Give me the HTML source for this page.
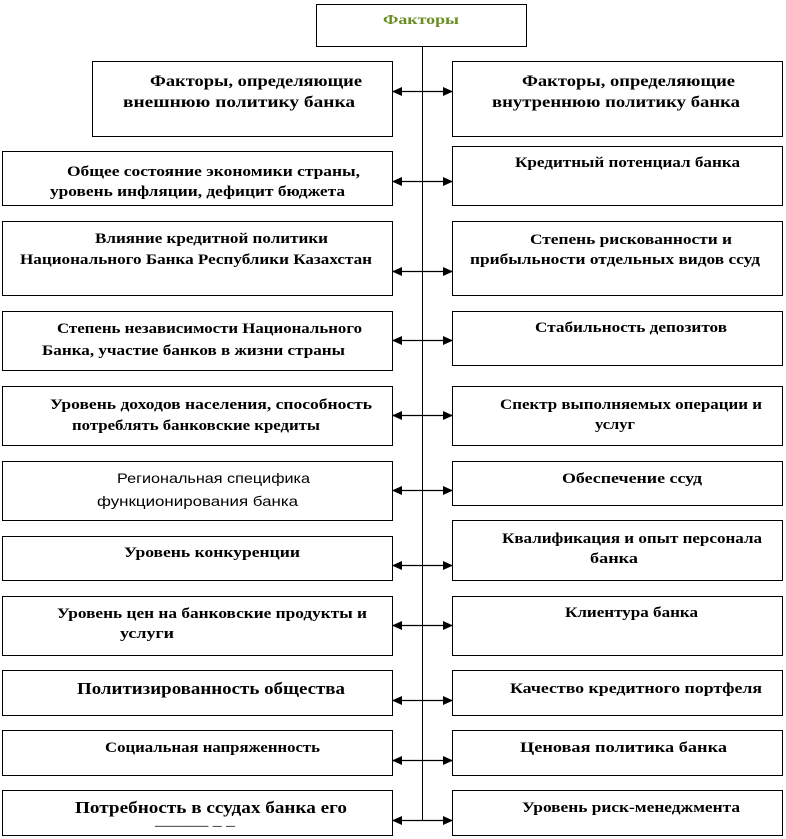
<!DOCTYPE html>
<html><head><meta charset="utf-8"><style>
html,body{margin:0;padding:0;background:#fff;}
svg{display:block;}
text{font-family:"Liberation Serif","Times New Roman",Times,serif;font-weight:bold;font-size:15px;fill:#000;}
</style></head><body>
<svg width="786" height="839" viewBox="0 0 786 839" xmlns="http://www.w3.org/2000/svg">
<defs>
<marker id="a" markerWidth="10" markerHeight="10" refX="9" refY="5" orient="auto-start-reverse" markerUnits="userSpaceOnUse">
<path d="M0,0.5 L10,5 L0,9.5 Z" fill="#000"/></marker>
</defs>
<g fill="none" stroke="#000" stroke-width="1">
<rect x="316.5" y="4.5" width="210" height="42"/>
<line x1="422.5" y1="46" x2="422.5" y2="820"/>
<rect x="92.5" y="61.5" width="300" height="75"/>
<rect x="452.5" y="61.5" width="330" height="75"/>
<rect x="2.5" y="151.5" width="390" height="54"/>
<rect x="452.5" y="146.5" width="330" height="59"/>
<rect x="2.5" y="221.5" width="390" height="74"/>
<rect x="452.5" y="221.5" width="330" height="74"/>
<rect x="2.5" y="311.5" width="390" height="59"/>
<rect x="452.5" y="311.5" width="330" height="54"/>
<rect x="2.5" y="386.5" width="390" height="59"/>
<rect x="452.5" y="386.5" width="330" height="59"/>
<rect x="2.5" y="461.5" width="390" height="59"/>
<rect x="452.5" y="461.5" width="330" height="44"/>
<rect x="2.5" y="536.5" width="390" height="44"/>
<rect x="452.5" y="520.5" width="330" height="60"/>
<rect x="2.5" y="596.5" width="390" height="59"/>
<rect x="452.5" y="596.5" width="330" height="59"/>
<rect x="2.5" y="670.5" width="390" height="45"/>
<rect x="452.5" y="670.5" width="330" height="45"/>
<rect x="2.5" y="730.5" width="390" height="45"/>
<rect x="452.5" y="730.5" width="330" height="45"/>
<rect x="2.5" y="790.5" width="390" height="45"/>
<rect x="452.5" y="790.5" width="330" height="45"/>
</g>
<g stroke="#000" stroke-width="1.3" marker-start="url(#a)" marker-end="url(#a)">
<line x1="393" y1="91.5" x2="452" y2="91.5"/>
<line x1="393" y1="181.5" x2="452" y2="181.5"/>
<line x1="393" y1="271.5" x2="452" y2="271.5"/>
<line x1="393" y1="340.5" x2="452" y2="340.5"/>
<line x1="393" y1="415.5" x2="452" y2="415.5"/>
<line x1="393" y1="490.5" x2="452" y2="490.5"/>
<line x1="393" y1="565.5" x2="452" y2="565.5"/>
<line x1="393" y1="625.5" x2="452" y2="625.5"/>
<line x1="393" y1="700.5" x2="452" y2="700.5"/>
<line x1="393" y1="760.5" x2="452" y2="760.5"/>
<line x1="393" y1="820.5" x2="452" y2="820.5"/>
</g>
<text x="383" y="24" textLength="76" lengthAdjust="spacingAndGlyphs" style="fill:#6b8e23;font-size:14px">Факторы</text>

<text x="150" y="86" textLength="212" lengthAdjust="spacingAndGlyphs" style="font-size:16px">Факторы, определяющие</text>
<text x="123" y="107" textLength="232" lengthAdjust="spacingAndGlyphs" style="font-size:16px">внешнюю политику банка</text>
<text x="522" y="86" textLength="213" lengthAdjust="spacingAndGlyphs" style="font-size:16px">Факторы, определяющие</text>
<text x="492" y="107" textLength="248" lengthAdjust="spacingAndGlyphs" style="font-size:16px">внутреннюю политику банка</text>

<text x="67" y="176" textLength="293" lengthAdjust="spacingAndGlyphs">Общее состояние экономики страны,</text>
<text x="50" y="196" textLength="295" lengthAdjust="spacingAndGlyphs">уровень инфляции, дефицит бюджета</text>
<text x="515" y="167" textLength="225" lengthAdjust="spacingAndGlyphs">Кредитный потенциал банка</text>

<text x="95" y="243" textLength="233" lengthAdjust="spacingAndGlyphs">Влияние кредитной политики</text>
<text x="20" y="264" textLength="352" lengthAdjust="spacingAndGlyphs">Национального Банка Республики Казахстан</text>
<text x="530" y="244" textLength="202" lengthAdjust="spacingAndGlyphs">Степень рискованности и</text>
<text x="470" y="264" textLength="290" lengthAdjust="spacingAndGlyphs">прибыльности отдельных видов ссуд</text>

<text x="57" y="333" textLength="305" lengthAdjust="spacingAndGlyphs">Степень независимости Национального</text>
<text x="42" y="355" textLength="303" lengthAdjust="spacingAndGlyphs">Банка, участие банков в жизни страны</text>
<text x="535" y="332" textLength="192" lengthAdjust="spacingAndGlyphs">Стабильность депозитов</text>

<text x="50" y="409" textLength="322" lengthAdjust="spacingAndGlyphs">Уровень доходов населения, способность</text>
<text x="72" y="430" textLength="248" lengthAdjust="spacingAndGlyphs">потреблять банковские кредиты</text>
<text x="500" y="409" textLength="262" lengthAdjust="spacingAndGlyphs">Спектр выполняемых операции и</text>
<text x="595" y="429" textLength="40" lengthAdjust="spacingAndGlyphs">услуг</text>

<text x="117" y="483" textLength="193" lengthAdjust="spacingAndGlyphs" style="font-family:'Liberation Sans','DejaVu Sans',sans-serif;font-weight:normal;font-size:14px">Региональная специфика</text>
<text x="97" y="506" textLength="201" lengthAdjust="spacingAndGlyphs" style="font-family:'Liberation Sans','DejaVu Sans',sans-serif;font-weight:normal;font-size:14px">функционирования банка</text>
<text x="562" y="483" textLength="140" lengthAdjust="spacingAndGlyphs">Обеспечение ссуд</text>

<text x="124" y="557" textLength="176" lengthAdjust="spacingAndGlyphs">Уровень конкуренции</text>
<text x="502" y="543" textLength="260" lengthAdjust="spacingAndGlyphs">Квалификация и опыт персонала</text>
<text x="590" y="563" textLength="48" lengthAdjust="spacingAndGlyphs">банка</text>

<text x="57" y="618" textLength="310" lengthAdjust="spacingAndGlyphs">Уровень цен на банковские продукты и</text>
<text x="120" y="638" textLength="54" lengthAdjust="spacingAndGlyphs">услуги</text>
<text x="565" y="617" textLength="133" lengthAdjust="spacingAndGlyphs">Клиентура банка</text>

<text x="77" y="694" textLength="268" lengthAdjust="spacingAndGlyphs" style="font-size:17px">Политизированность общества</text>
<text x="510" y="693" textLength="252" lengthAdjust="spacingAndGlyphs">Качество кредитного портфеля</text>

<text x="105" y="752" textLength="215" lengthAdjust="spacingAndGlyphs">Социальная напряженность</text>
<text x="520" y="752" textLength="207" lengthAdjust="spacingAndGlyphs">Ценовая политика банка</text>

<text x="75" y="813" textLength="272" lengthAdjust="spacingAndGlyphs" style="font-size:17px">Потребность в ссудах банка его</text>
<text x="155" y="830" textLength="80" lengthAdjust="spacingAndGlyphs" style="font-weight:normal">——— – –</text>
<text x="522" y="812" textLength="218" lengthAdjust="spacingAndGlyphs">Уровень риск-менеджмента</text>
</svg>
</body></html>
